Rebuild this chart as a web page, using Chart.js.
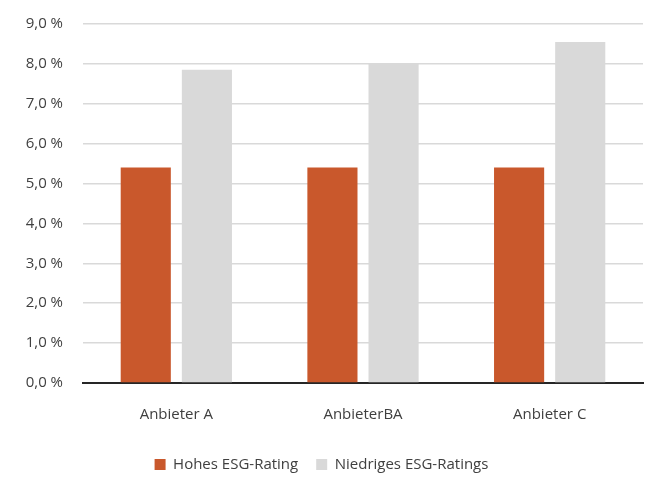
<!DOCTYPE html>
<html>
<head>
<meta charset="utf-8">
<script src="https://cdn.jsdelivr.net/npm/chart.js@4"></script>
<style>
  html, body { margin: 0; padding: 0; background: #fff; }
  #wrap { width: 645px; height: 482px; }
</style>
</head>
<body>
<div id="wrap"><canvas id="chart"></canvas></div>
<script>
const CATEGORIES = ['Anbieter A', 'AnbieterBA', 'Anbieter C'];
const HOHES = [5.4, 5.4, 5.4];
const NIEDRIGES = [7.85, 8.0, 8.55];
const SERIES_NAMES = ['Hohes ESG-Rating', 'Niedriges ESG-Ratings'];

const FONT = { family: "'Open Sans', 'Noto Sans', sans-serif", size: 15 };

const chart = new Chart(document.getElementById('chart'), {
  type: 'bar',
  data: {
    labels: CATEGORIES,
    datasets: [
      {
        label: SERIES_NAMES[0],
        data: HOHES,
        backgroundColor: '#C9582C',
        barPercentage: 0.82,
        categoryPercentage: 0.655,
      },
      {
        label: SERIES_NAMES[1],
        data: NIEDRIGES,
        backgroundColor: '#D9D9D9',
        barPercentage: 0.82,
        categoryPercentage: 0.655,
      },
    ],
  },
  options: {
    responsive: true,
    maintainAspectRatio: false,
    animation: false,
    layout: {
      padding: { top: 24, right: 2, left: 0, bottom: 0 },
    },
    scales: {
      x: {
        grid: { display: false },
        border: { color: '#262626', width: 2 },
        ticks: { color: '#404040', font: FONT, padding: 15 },
      },
      y: {
        min: 0,
        max: 9,
        afterFit: scale => {
          scale.width = 83;
          scale.paddingTop = 0;
        },
        grid: { color: '#D9D9D9', lineWidth: 1.5, tickLength: 0, drawTicks: false },
        border: { display: false },
        ticks: {
          stepSize: 1,
          color: '#404040',
          font: FONT,
          padding: 20,
          callback: v => v.toFixed(1).replace('.', ',') + ' %',
        },
      },
    },
    plugins: {
      tooltip: { enabled: false },
      legend: {
        position: 'bottom',
        labels: {
          color: '#404040',
          font: FONT,
          boxWidth: 11,
          boxHeight: 11,
          padding: 18,
        },
      },
    },
  },
});
</script>
</body>
</html>
